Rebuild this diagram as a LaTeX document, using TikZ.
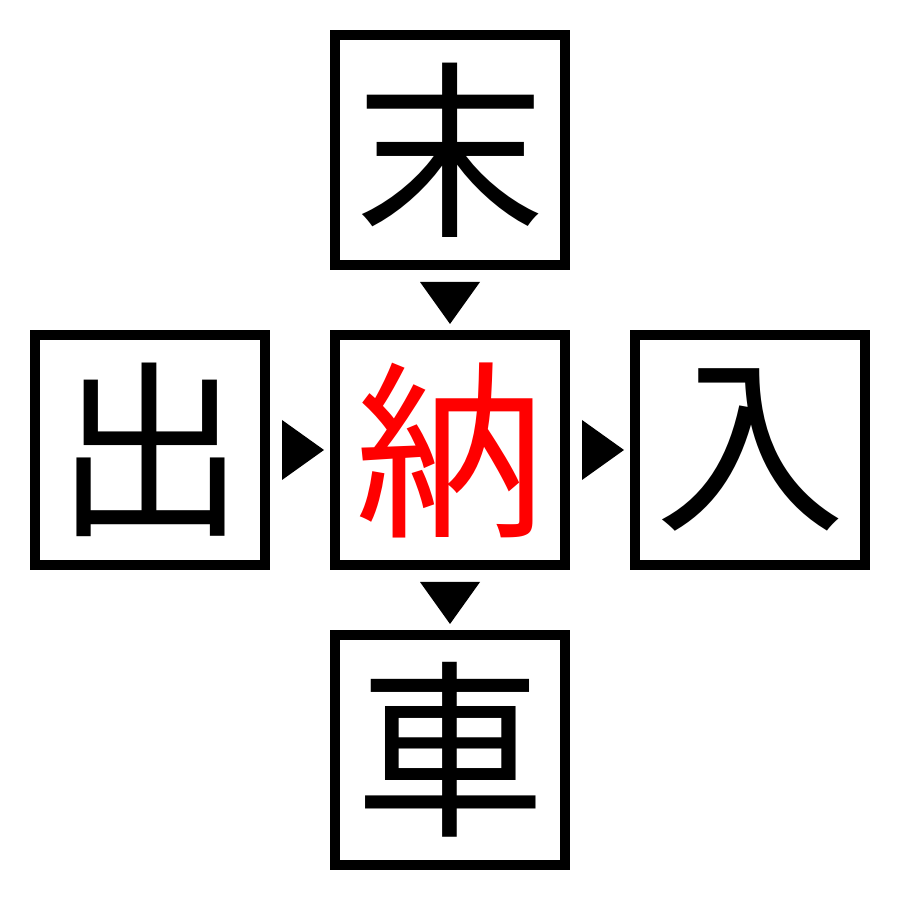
\documentclass[tikz,border=0pt]{standalone}
\usepackage{fontspec}
\newfontfamily\cjk{Noto Sans CJK JP}
\usetikzlibrary{positioning,calc}

\tikzset{
  kanji/.style={draw, line width=1mm, minimum size=2.3cm, inner sep=0pt,
    font=\cjk\fontsize{54}{54}\selectfont},
  pointer/.style={fill=black}
}

\begin{document}
\begin{tikzpicture}
    \useasboundingbox (0,0) rectangle (9,9);

    % centre and the four around it
    \node[kanji, text=red] (na) at (4.5,4.5) {納};
    \node[kanji, above=0.6cm of na] (matsu) {末};
    \node[kanji, below=0.6cm of na] (kuruma) {車};
    \node[kanji, left=0.6cm of na] (de) {出};
    \node[kanji, right=0.6cm of na] (iri) {入};

    % pointers
    \fill[pointer] ($(matsu.south)+(-0.3,-0.12)$) -- ++(0.6,0) -- ++(-0.3,-0.42) -- cycle;
    \fill[pointer] ($(na.south)+(-0.3,-0.12)$) -- ++(0.6,0) -- ++(-0.3,-0.42) -- cycle;
    \fill[pointer] ($(de.east)+(0.12,0.3)$) -- ++(0,-0.6) -- ++(0.42,0.3) -- cycle;
    \fill[pointer] ($(na.east)+(0.12,0.3)$) -- ++(0,-0.6) -- ++(0.42,0.3) -- cycle;
\end{tikzpicture}
\end{document}
